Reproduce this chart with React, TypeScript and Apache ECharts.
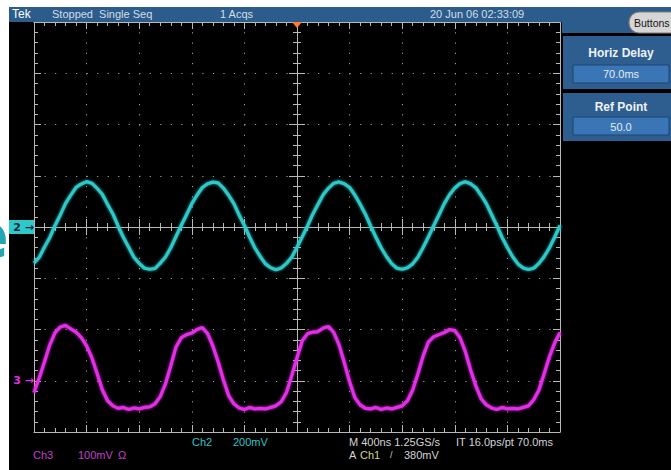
import React, { useEffect, useRef } from "react";
import * as echarts from "echarts";

// ---- acquisition settings ----
const sampleStartNs = -2000;
const sampleStepNs = 40;
const timePerDivNs = 400;
const ch2MvPerDiv = 200;
const ch3MvPerDiv = 100;
const ch2GroundDiv = 0;
const ch3GroundDiv = -3;

// ---- traces (mV), one sample each 40 ns from -2000 ns ----
const ch2Mv = [
  -141, -118, -78, -41, 6, 47, 92, 124, 155, 168,
  177, 171, 151, 127, 88, 51, 3, -41, -79, -118,
  -142, -161, -165, -162, -141, -117, -81, -37, 7, 48,
  91, 125, 154, 169, 175, 172, 152, 124, 91, 47,
  6, -40, -82, -115, -144, -159, -167, -160, -142, -118,
  -79, -38, 4, 50, 89, 127, 152, 171, 176, 169,
  154, 125, 89, 50, 4, -40, -81, -115, -143, -161,
  -165, -159, -144, -117, -79, -38, 6, 48, 91, 126,
  152, 170, 177, 169, 153, 124, 91, 48, 5, -41,
  -80, -116, -144, -160, -166, -161, -142, -115, -81, -39,
  6,
];
const ch3Mv = [
  -23, 6, 37, 70, 94, 105, 108, 101, 95, 84,
  68, 45, 14, -18, -39, -49, -54, -52, -56, -53,
  -55, -52, -51, -45, -31, -6, 29, 66, 84, 90,
  93, 100, 104, 92, 68, 37, 2, -29, -45, -53,
  -56, -52, -55, -54, -55, -52, -49, -41, -23, 10,
  45, 78, 92, 95, 96, 103, 106, 94, 70, 35,
  -2, -33, -47, -54, -55, -52, -56, -53, -55, -52,
  -49, -39, -18, 14, 49, 76, 86, 90, 94, 100,
  98, 84, 57, 21, -10, -35, -47, -53, -56, -52,
  -55, -54, -55, -52, -49, -37, -18, 14, 47, 74,
  94,
];

// ---- on-screen texts ----
const statusTexts = ["Tek", "Stopped  Single Seq", "1 Acqs", "20 Jun 06 02:33:09"];
const menuTitles = ["Horiz Delay", "Ref Point"];
const menuValues = ["70.0ms", "50.0"];
const ch2Readout = ["Ch2", "200mV"];
const ch3Readout = ["Ch3", "100mV", "Ω"];
const timebaseReadout = ["M 400ns 1.25GS/s", "IT 16.0ps/pt 70.0ms"];
const triggerReadout = ["A", "Ch1", "/", "380mV"];

const CYAN = "#2fc8c8";
const MAGENTA = "#e22fe6";
const GRAT = "#b8b8b8";
const DOT = "#a0a0a0";
const BAR = "#2b5c8c";
const PANEL = "#2d5e8f";
const BOX = "#3a76b5";
const FONT = '"Liberation Sans", Arial, sans-serif';

const G = { left: 34, top: 22, width: 526, height: 410 };

function txt(x: number, y: number, text: string, fill: string, size = 11, weight = "normal", align = "left") {
  return {
    type: "text",
    x,
    y,
    z: 100,
    silent: true,
    style: {
      text,
      fill,
      font: `${weight} ${size}px ${FONT}`,
      align,
      verticalAlign: "middle",
      textAlign: align,
      textVerticalAlign: "middle",
    },
  };
}

function rect(x: number, y: number, w: number, h: number, fill: string, extra: any = {}) {
  return { type: "rect", z: 50, silent: true, shape: { x, y, width: w, height: h, r: extra.r || 0 }, style: { fill, stroke: extra.stroke, lineWidth: extra.lineWidth || 0 } };
}

export default function App() {
  const ref = useRef<HTMLDivElement>(null);

  useEffect(() => {
    if (!ref.current) return;
    const chart = echarts.init(ref.current, undefined, { renderer: "svg" });

    const ch2Data = ch2Mv.map((mv, i) => [sampleStartNs + i * sampleStepNs, ch2GroundDiv + mv / ch2MvPerDiv]);
    const ch3Data = ch3Mv.map((mv, i) => [sampleStartNs + i * sampleStepNs, ch3GroundDiv + mv / ch3MvPerDiv]);

    const halfSpan = timePerDivNs * 5;
    const xBase: any = {
      type: "value",
      min: -halfSpan,
      max: halfSpan,
      interval: timePerDivNs,
      axisLabel: { show: false },
      splitLine: { show: false },
    };
    const yBase: any = {
      type: "value",
      min: -4,
      max: 4,
      interval: 1,
      axisLabel: { show: false },
      splitLine: { show: false },
    };
    const borderTick = { inside: true, length: 7, lineStyle: { color: GRAT } };
    const borderMinor = { show: true, splitNumber: 5, length: 4, lineStyle: { color: GRAT } };
    const centerTick = { inside: false, length: 8, lineStyle: { color: GRAT } };
    const centerMinor = { show: true, splitNumber: 5, length: 4, lineStyle: { color: GRAT } };

    const option: any = {
      animation: false,
      backgroundColor: "#000",
      grid: { ...G, outerBoundsMode: "none", containLabel: false },
      xAxis: [
        {
          ...xBase,
          position: "bottom",
          axisLine: { onZero: false, lineStyle: { color: GRAT } },
          axisTick: borderTick,
          minorTick: borderMinor,
          splitLine: { show: true, lineStyle: { color: DOT, width: 1, type: [1.2, 9.05] } },
        },
        { ...xBase, position: "top", axisLine: { onZero: false, lineStyle: { color: GRAT } }, axisTick: borderTick, minorTick: borderMinor },
        { ...xBase, position: "bottom", axisLine: { onZero: true, onZeroAxisIndex: 0, lineStyle: { color: GRAT } }, axisTick: centerTick, minorTick: centerMinor },
        { ...xBase, position: "top", axisLine: { onZero: true, onZeroAxisIndex: 0, lineStyle: { color: GRAT } }, axisTick: centerTick, minorTick: centerMinor },
      ],
      yAxis: [
        {
          ...yBase,
          position: "left",
          axisLine: { onZero: false, lineStyle: { color: GRAT } },
          axisTick: borderTick,
          minorTick: borderMinor,
          splitLine: { show: true, lineStyle: { color: DOT, width: 1, type: [1.2, 9.32] } },
          axisLabel: {
            show: true,
            margin: 0,
            formatter: (v: number) =>
              v === ch2GroundDiv ? "{c2|2 →}" : v === ch3GroundDiv ? "{c3|3 →}" : "",
            rich: {
              c2: { backgroundColor: CYAN, color: "#0b2540", fontSize: 11, fontWeight: "bold", fontFamily: "DejaVu Sans", padding: [2, 0, 1, 7] },
              c3: { color: MAGENTA, fontSize: 11, fontWeight: "bold", fontFamily: "DejaVu Sans", padding: [0, 0, 0, 7] },
            },
          },
        },
        { ...yBase, position: "right", axisLine: { onZero: false, lineStyle: { color: GRAT } }, axisTick: borderTick, minorTick: borderMinor },
        { ...yBase, position: "left", axisLine: { onZero: true, onZeroAxisIndex: 0, lineStyle: { color: GRAT } }, axisTick: centerTick, minorTick: centerMinor },
        { ...yBase, position: "right", axisLine: { onZero: true, onZeroAxisIndex: 0, lineStyle: { color: GRAT } }, axisTick: centerTick, minorTick: centerMinor },
      ],
      series: [
        {
          type: "line",
          name: "Ch2",
          xAxisIndex: 0,
          yAxisIndex: 0,
          data: ch2Data,
          showSymbol: false,
          symbol: "none",
          silent: true,
          z: 5,
          lineStyle: { color: CYAN, width: 3.2, shadowColor: "rgba(47,200,200,0.9)", shadowBlur: 3 },
        },
        {
          type: "line",
          name: "Ch3",
          xAxisIndex: 0,
          yAxisIndex: 0,
          data: ch3Data,
          showSymbol: false,
          symbol: "none",
          silent: true,
          z: 5,
          lineStyle: { color: MAGENTA, width: 3.2, shadowColor: "rgba(226,47,230,0.9)", shadowBlur: 3 },
        },
      ],
      graphic: {
        elements: [
          rect(0, 0, 671, 7, "#ffffff"),
          rect(0, 0, 9, 470, "#ffffff"),
          {
            type: "text",
            x: 9,
            y: 236,
            z: 101,
            silent: true,
            style: {
              text: "e",
              fill: "#22a6b3",
              font: 'bold 64px "DejaVu Sans", sans-serif',
              align: "right",
              verticalAlign: "middle",
              textAlign: "right",
              textVerticalAlign: "middle",
            },
          },
          rect(9, 7, 662, 15, BAR),
          rect(562, 22, 109, 11, BAR),
          rect(563, 36, 108, 53, PANEL),
          rect(573, 65, 96, 18, BOX, { stroke: "#1d4572", lineWidth: 1 }),
          rect(563, 93, 108, 48, PANEL),
          rect(573, 117, 96, 18, BOX, { stroke: "#1d4572", lineWidth: 1 }),
          rect(629, 12, 60, 21, "#d6d6d6", { r: 10, stroke: "#7c7c7c", lineWidth: 1.2 }),
          {
            type: "polygon",
            z: 60,
            silent: true,
            shape: { points: [[G.left + G.width / 2 - 5, 22], [G.left + G.width / 2 + 5, 22], [G.left + G.width / 2, 28]] },
            style: { fill: "#ff7b2e" },
          },
          txt(12, 14, statusTexts[0], "#ffffff", 12),
          txt(52, 14, statusTexts[1], "#d4dce6", 11),
          txt(220, 14, statusTexts[2], "#d4dce6", 11),
          txt(430, 14, statusTexts[3], "#d4dce6", 11),
          txt(634, 23, "Buttons", "#141414", 10.5),
          txt(621, 53, menuTitles[0], "#eef2f6", 12, "bold", "center"),
          txt(621, 74, menuValues[0], "#e6ecf2", 11, "normal", "center"),
          txt(621, 107, menuTitles[1], "#eef2f6", 12, "bold", "center"),
          txt(621, 127, menuValues[1], "#e6ecf2", 11, "normal", "center"),
          txt(192, 442, ch2Readout[0], "#35c2c6", 11),
          txt(233, 442, ch2Readout[1], "#35c2c6", 11),
          txt(33, 455, ch3Readout[0], "#c640cc", 11),
          txt(78, 455, ch3Readout[1], "#c640cc", 11),
          txt(118, 455, ch3Readout[2], "#c640cc", 11),
          txt(349, 442, timebaseReadout[0], "#d4d4d4", 11),
          txt(456, 442, timebaseReadout[1], "#d4d4d4", 11),
          txt(349, 455, triggerReadout[0], "#d4d4d4", 11),
          txt(360, 455, triggerReadout[1], "#d4d68c", 11),
          txt(390, 455, triggerReadout[2], "#d4d4d4", 9),
          txt(404, 455, triggerReadout[3], "#d4d4d4", 11),
        ],
      },
    };

    chart.setOption(option);
    return () => chart.dispose();
  }, []);

  return (
    <div
      ref={ref}
      style={{ position: "absolute", left: 0, top: 0, width: 671, height: 470, overflow: "hidden" }}
    />
  );
}
